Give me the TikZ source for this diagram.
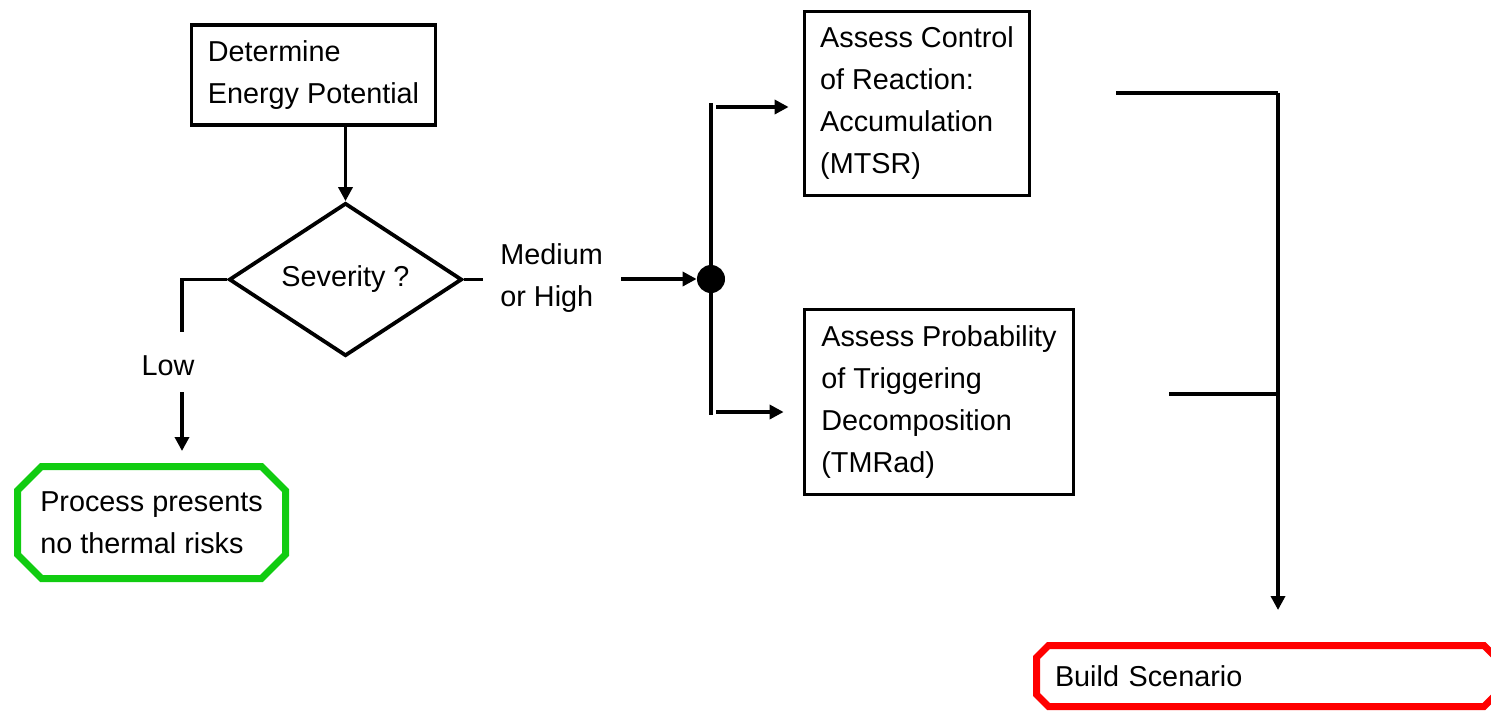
\documentclass[tikz,border=0pt]{standalone}
\usepackage{fontspec}
\setmainfont{Liberation Sans}
\usepackage{tikz}
\usetikzlibrary{positioning,arrows.meta,shapes.geometric,shapes.misc}
\newcommand{\flowfont}{\fontsize{14.4}{21}\selectfont}
\tikzset{
  block/.style={rectangle, draw=black, line width=1.9pt, align=left, inner sep=0pt, font=\flowfont},
  decision/.style={diamond, draw=black, line width=1.9pt, aspect=1.5, inner sep=1pt,
                   minimum width=116.5pt, minimum height=76.5pt, font=\flowfont},
  term/.style={chamfered rectangle, chamfered rectangle xsep=6pt, chamfered rectangle ysep=6pt,
               line width=3.5pt, align=left, inner sep=0pt, font=\flowfont},
  label/.style={font=\flowfont, align=left, inner sep=0pt},
  link/.style={line width=1.7pt},
  arr/.style={-{Triangle[length=7pt,width=7pt]}, line width=1.7pt},
}
\definecolor{safe}{HTML}{11CC11}
\definecolor{alert}{HTML}{FF0000}

\begin{document}
\begin{tikzpicture}[x=0.5pt,y=-0.5pt]
      \useasboundingbox (0,0) rectangle (1491,713);
      \node[block, minimum width=122pt, minimum height=50pt] (energy) at (313.5,75) {Determine\\Energy Potential};
      \node[decision] (sev) at (345.5,279.5) {Severity ?};
      \node[term, draw=safe, minimum width=134pt, minimum height=56pt] (safe) at (151.5,522.5) {Process presents\\no thermal risks};
      \node[label] (low) at (168,366) {Low};
      \node[label, anchor=west] (med) at (500,278) {Medium\\or High};
      \node[circle, fill=black, minimum size=14pt, inner sep=0pt] (hub) at (711,279) {};
      \node[block, minimum width=112.5pt, minimum height=92pt] (ctl) at (917,103.5) {Assess Control\\of Reaction:\\Accumulation\\(MTSR)};
      \node[block, minimum width=134.5pt, minimum height=92.5pt] (prob) at (939,402) {Assess Probability\\of Triggering\\Decomposition\\(TMRad)};
      \node[term, draw=alert, chamfered rectangle xsep=3pt, chamfered rectangle ysep=3pt,
            minimum width=229.75pt, minimum height=30.5pt, text width=211.25pt] (scen) at (1266.25,676) {Build Scenario};
      % free ends of the connectors
      \coordinate (lowtop) at (182,332);
      \coordinate (lowbot) at (182,392);
      \coordinate (medstub) at (483,279.5);
      \coordinate (bustop) at (711,103);
      \coordinate (busbot) at (711,415);
      \coordinate (ctlin) at (716,107);
      \coordinate (probin) at (716,412);
      \coordinate (ctlout) at (1116,93);
      \coordinate (probout) at (1169,394);
      \coordinate (merge) at (1278,93);
      % connectors
      \draw[arr] (energy.south -| sev.north) -- (sev.north);
      \draw[link] (sev.west) -| (lowtop);
      \draw[arr, shorten >=6pt] (lowbot) -- (lowbot |- safe.north);
      \draw[link] (sev.east) -- (medstub);
      \draw[arr] ([xshift=9pt]med.east |- hub) -- (hub);
      \draw[link] (bustop) -- (busbot);
      \draw[arr, shorten >=7pt] (ctlin) -- (ctlin -| ctl.west);
      \draw[arr, shorten >=9.5pt] (probin) -- (probin -| prob.west);
      \draw[link] (ctlout) -- (merge);
      \draw[link] (probout) -- (probout -| merge);
      \draw[arr, shorten >=16pt] (merge) -- (merge |- scen.north);
    \end{tikzpicture}
\end{document}
